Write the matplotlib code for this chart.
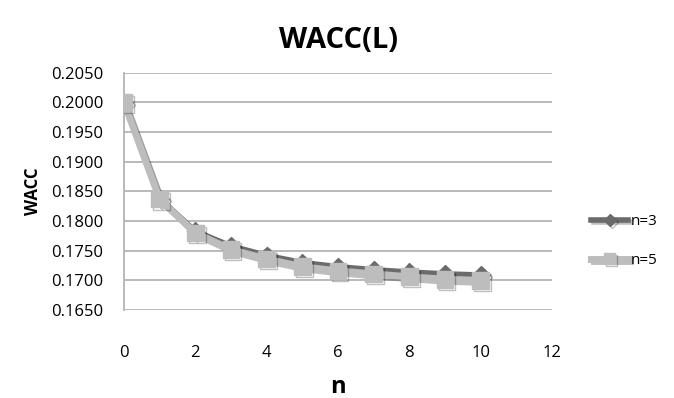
import numpy as np
import matplotlib.pyplot as plt
import matplotlib.patheffects as pe

plt.rcParams['font.family'] = ['Open Sans', 'DejaVu Sans']

n_vals = [0, 1, 2, 3, 4, 5, 6, 7, 8, 9, 10]
wacc_n3 = [0.2000, 0.1838, 0.1783, 0.1758, 0.1742, 0.1730, 0.1723, 0.1718, 0.1714, 0.1711, 0.1709]
wacc_n5 = [0.2000, 0.1837, 0.1780, 0.1752, 0.1736, 0.1723, 0.1716, 0.1711, 0.1706, 0.1702, 0.1700]

yticks = np.arange(0.1650, 0.20501, 0.0050)
xticks = [0, 2, 4, 6, 8, 10, 12]

fig = plt.figure(figsize=(6.74, 3.98), dpi=100)
ax = fig.add_axes([0.184, 0.221, 0.635, 0.596])

shadow = [pe.SimpleLineShadow(offset=(1.5, -1.5), alpha=0.25), pe.Normal()]
ax.plot(n_vals, wacc_n3, color='#6b6b6b', lw=4, marker='D', ms=9,
        mfc='#6b6b6b', mec='#6b6b6b', label='n=3', path_effects=shadow, zorder=3)
ax.plot(n_vals, wacc_n5, color='#bdbdbd', lw=5, marker='s', ms=12,
        mfc='#bdbdbd', mec='#bdbdbd', label='n=5', path_effects=shadow, zorder=4)

ax.set_xlim(0, 12)
ax.set_ylim(0.1650, 0.2050)
ax.set_xticks(xticks)
ax.set_yticks(yticks)
ax.set_yticklabels(['%.4f' % v for v in yticks])
ax.yaxis.grid(True, color='#b4b4b4', lw=1.3)
ax.set_axisbelow(True)
for s in ['top', 'right', 'bottom']:
    ax.spines[s].set_visible(False)
ax.spines['left'].set_color('#b4b4b4')
ax.spines['left'].set_linewidth(1.3)
ax.tick_params(axis='both', length=0, labelsize=12, labelcolor='black')
ax.tick_params(axis='x', pad=25)
ax.tick_params(axis='y', pad=15)

ax.set_title('WACC(L)', fontsize=21, fontweight='bold', pad=18)
ax.set_xlabel('n', fontsize=17, fontweight='bold', labelpad=10)
ax.set_ylabel('WACC', fontsize=12, fontweight='bold', labelpad=6)

leg = ax.legend(loc='center left', bbox_to_anchor=(1.06, 0.29), frameon=False,
                fontsize=11, handlelength=2.4, handletextpad=0.15,
                labelspacing=1.55, markerscale=0.65)

fig.savefig('out.png', dpi=100)
